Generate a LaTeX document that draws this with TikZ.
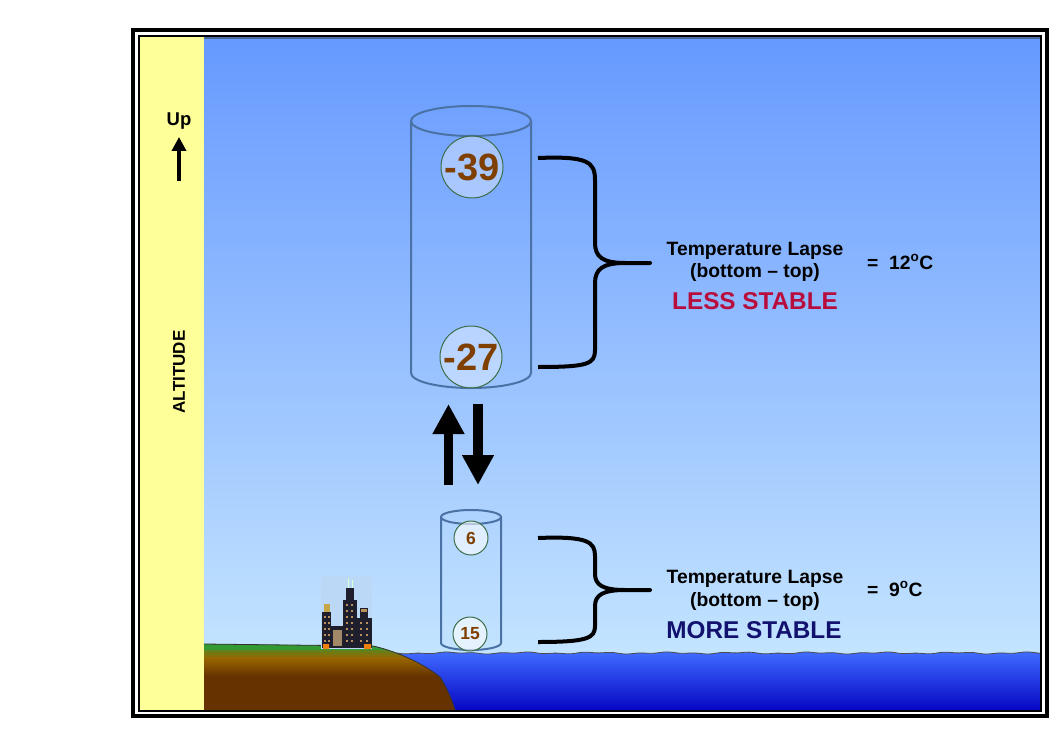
\documentclass[tikz,border=0pt]{standalone}
\usepackage{fontspec}
\setmainfont{Liberation Sans}
\usetikzlibrary{arrows.meta}
\definecolor{skytop}{HTML}{6699FF}
\definecolor{skybot}{HTML}{CCEBFF}
\definecolor{band}{HTML}{FFFF99}
\definecolor{cyl}{HTML}{4A72A4}
\definecolor{numbrown}{HTML}{7F3F00}
\definecolor{bubedge}{HTML}{3C6E48}
\definecolor{lessc}{HTML}{B80C3C}
\definecolor{morec}{HTML}{12126E}
\definecolor{grass}{HTML}{339933}
\definecolor{soil}{HTML}{996600}
\definecolor{soildark}{HTML}{663300}
\definecolor{seatop}{HTML}{3F6BFF}
\definecolor{seabot}{HTML}{0606C4}
\definecolor{bldg}{HTML}{1E1E2C}
\definecolor{win}{HTML}{B89058}
\definecolor{citybg}{HTML}{BBD8F6}
\definecolor{topedge}{HTML}{4A6A9A}
\begin{document}
\begin{tikzpicture}[x=1pt,y=-1pt,
  lbl/.style={inner sep=0pt, font=\fontsize{19.3}{21}\selectfont\bfseries},
  stab/.style={inner sep=0pt, font=\fontsize{24.3}{26}\selectfont\bfseries},
  bigbub/.style={circle, draw=bubedge, line width=1pt, fill=white, fill opacity=0.35, text opacity=1, text=numbrown, minimum size=62pt, inner sep=0pt, font=\fontsize{38}{40}\selectfont\bfseries},
  smallbub/.style={bigbub, minimum size=34pt, font=\fontsize{17.5}{18}\selectfont\bfseries, fill opacity=0.6},
  cylline/.style={draw=cyl, line width=2pt},
  brace/.style={line width=4pt, line join=round},
  blockarrow/.style={line width=#1, -{Triangle[length=30pt, width=30pt]}},
]
\useasboundingbox (0,0) rectangle (1062,730);
\fill[white] (0,0) rectangle (1062,730);
% sky and band
\shade[top color=skytop, bottom color=skybot] (204,37) rectangle (1040,710);
\fill[band] (140,37) rectangle (204,710);
\draw[topedge, line width=1.5pt] (204,38) -- (1040,38);
% water
\shade[top color=seatop, bottom color=seabot]
  plot[domain=397:1040, samples=160] (\x, {653+0.6*sin((\x-397)*5)+0.5*sin((\x-397)*13)}) -- (1040,710) -- (397,710) -- cycle;
\draw[black!70, line width=0.8pt]
  plot[domain=397:1040, samples=160] (\x, {653+0.6*sin((\x-397)*5)+0.5*sin((\x-397)*13)});
% land
\begin{scope}
\clip (204,644) -- (373,646) .. controls (400,652) and (425,665) .. (440,677) .. controls (447,688) and (452,700) .. (455,710) -- (204,710) -- cycle;
\shade[top color=grass, bottom color=soil] (204,643) rectangle (460,658);
\shade[top color=soil, bottom color=soildark] (204,658) rectangle (460,676);
\fill[soildark] (204,676) rectangle (460,711);
\fill[grass] (204,643) rectangle (460,650);
\end{scope}
\draw[black!80, line width=0.8pt] (204,644) -- (373,646) .. controls (400,652) and (425,665) .. (440,677) .. controls (447,688) and (452,700) .. (455,710);
% city
\fill[citybg] (321,576) rectangle (372,649);
\draw[white!85!green, line width=1pt] (348,578) -- (348,590) (352,580) -- (352,590);
\fill[bldg] (346,588) rectangle (354,602);
\fill[bldg] (343,600) rectangle (357,648);
\fill[bldg] (322,612) rectangle (331,648);
\fill[win!80!yellow] (324,604) rectangle (330,612);
\fill[bldg] (331,626) rectangle (344,648);
\fill[bldg] (357,618) rectangle (372,648);
\fill[bldg] (360,608) rectangle (368,618);
\fill[win] (361,609) rectangle (367,612);
\foreach \yy in {604,610,616,622,628,634,640} {\fill[win] (346,\yy) rectangle (348,\yy+2); \fill[win] (351,\yy) rectangle (353,\yy+2);}
\foreach \yy in {616,622,628,634,640} {\fill[win] (324,\yy) rectangle (326,\yy+2); \fill[win] (328,\yy) rectangle (329.5,\yy+2);}
\foreach \yy in {622,628,634,640} {\fill[win] (360,\yy) rectangle (362,\yy+2); \fill[win] (366,\yy) rectangle (368,\yy+2);}
\fill[win!60!gray] (333,630) rectangle (342,646);
\fill[orange!80!brown] (323,644) rectangle (329,649) (364,644) rectangle (371,649);
% frame
\draw[line width=4pt] (133,30) rectangle (1047,716);
\draw[line width=2pt] (139,36) rectangle (1041,711);
% altitude band text
\node[inner sep=0pt, font=\fontsize{18.5}{20}\selectfont\bfseries] (up) at (179,121) {Up};
\coordinate (upa1) at (179,181);
\coordinate (upa2) at (179,137);
\draw[line width=4pt, -{Triangle[length=14pt, width=14pt]}] (upa1) -- (upa2);
\node[inner sep=0pt, rotate=90, font=\fontsize{17}{18}\selectfont\bfseries] (alt) at (179,372) {ALTITUDE};
% big cylinder
\draw[cylline] (471,121) ellipse [x radius=60pt, y radius=15pt];
\draw[cylline] (411,121) -- (411,373) arc[start angle=180, end angle=360, x radius=60pt, y radius=15pt] -- (531,121);
\node[bigbub] (t39) at (472,167) {-39};
\node[bigbub] (t27) at (471,357) {-27};
% small cylinder
\draw[cylline] (471,517) ellipse [x radius=30pt, y radius=7pt];
\draw[cylline] (441,517) -- (441,643) arc[start angle=180, end angle=360, x radius=30pt, y radius=7pt] -- (501,517);
\node[smallbub] (t6) at (471,538) {6};
\node[smallbub] (t15) at (470,634) {15};
% arrows
\coordinate (ua1) at (448.5,485);
\coordinate (ua2) at (448.5,404);
\coordinate (da1) at (478,404);
\coordinate (da2) at (478,485);
\draw[blockarrow=9.5pt] (ua1) -- (ua2);
\draw[blockarrow=10pt] (da1) -- (da2);
% braces
\draw[brace] (538,158) .. controls (588,156) and (595,162) .. (595,180) -- (595,243) .. controls (595,257) and (603,263) .. (625,263) -- (650,263)
  -- (625,263) .. controls (603,263) and (595,269) .. (595,283) -- (595,350) .. controls (595,364) and (588,367) .. (538,367);
\draw[brace] (538,538) .. controls (588,536) and (595,542) .. (595,556) -- (595,574) .. controls (595,585) and (603,590) .. (625,590) -- (650,590)
  -- (625,590) .. controls (603,590) and (595,595) .. (595,606) -- (595,626) .. controls (595,638) and (588,642) .. (538,642);
% labels
\node[lbl] (tl1) at (755,251) {Temperature Lapse};
\node[lbl] (bt1) at (755,273) {(bottom -- top)};
\node[stab, text=lessc] (ls) at (755,301) {LESS STABLE};
\node[lbl, anchor=west] (eq1) at (867,262) {=\ \ 12\textsuperscript{o}C};
\node[lbl] (tl2) at (755,579) {Temperature Lapse};
\node[lbl] (bt2) at (755,602) {(bottom -- top)};
\node[stab, text=morec] (ms) at (754,630) {MORE STABLE};
\node[lbl, anchor=west] (eq2) at (867,589) {=\ \ 9\textsuperscript{o}C};
\end{tikzpicture}
\end{document}
